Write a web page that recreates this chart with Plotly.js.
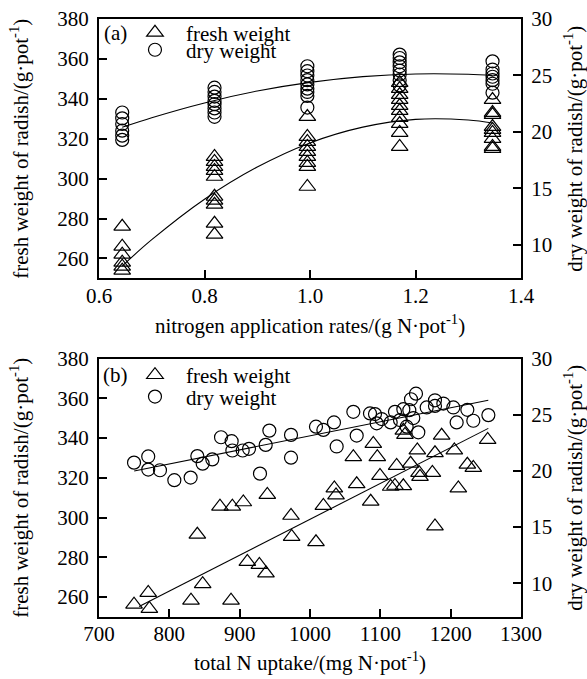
<!DOCTYPE html>
<html><head><meta charset="utf-8">
<script src="https://cdn.plot.ly/plotly-3.0.1.min.js"></script>
<style>body{margin:0;background:#fff}</style>
</head><body><div id="chart" style="width:587px;height:679px"></div>
<script>
// ---------- Panel (a): nitrogen application rate ----------
const aFreshX = [0.644,0.644,0.644,0.644,0.644,0.644,
  0.819,0.819,0.819,0.819,0.819,0.819,0.819,0.819,0.819,0.819,
  0.995,0.995,0.995,0.995,0.995,0.995,0.995,0.995,0.995,
  1.17,1.17,1.17,1.17,1.17,1.17,1.17,1.17,1.17,1.17,
  1.346,1.346,1.346,1.346,1.346,1.346,1.346,1.346,1.346];
const aFreshY = [276,266,262,258,256,254,
  311,308.5,306,304,301,291,289,287,277.5,272,
  331,321,318.5,316,313.5,311,308,306,296,
  348,345,342,339.5,336.5,334,330.5,327.5,323,316,
  339.5,333,332,326,324.5,323,320,316,315];
const aDryX = [0.644,0.644,0.644,0.644,0.644,0.644,
  0.819,0.819,0.819,0.819,0.819,0.819,0.819,0.819,
  0.995,0.995,0.995,0.995,0.995,0.995,0.995,0.995,0.995,
  1.17,1.17,1.17,1.17,1.17,1.17,1.17,1.17,
  1.346,1.346,1.346,1.346,1.346,1.346,1.346];
const aDryY = [21.71,21.19,20.69,20.10,19.66,19.28,
  23.91,23.53,23.12,22.74,22.45,22.07,21.71,21.33,
  25.81,25.37,24.99,24.58,24.20,23.82,23.53,23.18,22.15,
  26.84,26.54,26.16,25.81,25.43,25.08,24.58,24.11,
  26.25,25.52,25.17,24.88,24.58,24.26,23.47];
const aFitX = [0.644,0.7,0.8,0.9,1.0,1.1,1.2,1.3,1.346];
const aFreshFit = [256.2,269.4,289.7,305.8,317.9,325.8,329.7,329.4,327.9];
const aDryFit = [20.40,21.25,22.56,23.61,24.38,24.89,25.13,25.10,24.99];

// ---------- Panel (b): total N uptake ----------
const bFreshX = [749.8,770,771.6,830.8,839.8,847.4,872,889.6,887.7,905.2,910.9,928,937.4,939.3,
  973,973.9,1008.5,1019,1034.6,1037,1061.6,1066.4,1086.3,1090,1095.7,1099.5,1114.7,1120.8,
  1123.2,1132.7,1132.7,1135,1143,1152.6,1155,1156.4,1174,1177.7,1177.7,1187.2,1205.2,1210.9,
  1223.7,1232.2,1252.6];
const bFreshY = [256.3,262.2,254.2,258.3,291.5,266.6,305.6,305.6,258.3,307.8,277.8,276.3,272,311.5,
  301,290.4,287.7,306,314.8,311.3,330.5,316.9,308.1,337.2,330.5,321.1,315.6,316.1,
  326.1,315.9,343.8,341.7,327.2,333.9,322.6,320.6,322.6,295.7,332.5,341.3,333.9,314.8,
  326.7,325.1,339.2];
const bDryX = [749.8,770,770,786.7,807.1,830.3,839.8,847.4,861.1,873.5,888.6,889.6,904.3,913.3,
  928.9,937,942.2,973,973,1008.5,1019,1034.1,1037.9,1061.6,1066.4,1085.3,1092.4,1094.8,
  1101.9,1114.7,1120.8,1127.9,1132.7,1137.4,1141.2,1143.6,1146.9,1150.7,1154,1165.9,1177.7,
  1177.7,1189.6,1203.8,1208.5,1223.7,1232.2,1253.6];
const bDryY = [20.74,21.29,20.12,20.06,19.18,19.41,21.32,20.65,21.03,23.0,22.65,21.82,21.82,21.97,
  19.76,22.32,23.59,23.21,21.18,23.94,23.65,24.32,22.18,25.26,23.15,25.12,25.06,24.24,
  24.62,24.32,25.26,24.53,25.5,23.94,25.41,26.38,24.71,26.88,23.44,25.65,26.29,
  25.79,26.0,25.65,24.32,25.44,24.47,24.97];
const bFreshFitX = [757, 1253.5];
const bFreshFitY = [255.3, 344.9];
const bDryFitX = [750, 1253.5];
const bDryFitY = [20.0, 26.3];

const seriesNames = ['fresh weight', 'dry weight'];

// ---------- styling ----------
const FONT = '"Liberation Serif", "Times New Roman", serif';
const FS = 21;
const tri = {symbol:'triangle-up-open', size:14.5, color:'#000', line:{width:1.2, color:'#000'}};
const cir = {symbol:'circle-open', size:13, color:'#000', line:{width:1.2, color:'#000'}};
const fitLine = {color:'#000', width:1.1};

const traces = [
  {x:aFreshX, y:aFreshY, xaxis:'x', yaxis:'y', mode:'markers', marker:tri, name:seriesNames[0], legend:'legend'},
  {x:aDryX, y:aDryY, xaxis:'x', yaxis:'y2', mode:'markers', marker:cir, name:seriesNames[1], legend:'legend2'},
  {x:aFitX, y:aFreshFit, xaxis:'x', yaxis:'y', mode:'lines', line:Object.assign({shape:'spline'}, fitLine), showlegend:false},
  {x:aFitX, y:aDryFit, xaxis:'x', yaxis:'y2', mode:'lines', line:Object.assign({shape:'spline'}, fitLine), showlegend:false},
  {x:bFreshX, y:bFreshY, xaxis:'x2', yaxis:'y3', mode:'markers', marker:tri, name:seriesNames[0], legend:'legend3'},
  {x:bDryX, y:bDryY, xaxis:'x2', yaxis:'y4', mode:'markers', marker:cir, name:seriesNames[1], legend:'legend4'},
  {x:bFreshFitX, y:bFreshFitY, xaxis:'x2', yaxis:'y3', mode:'lines', line:fitLine, showlegend:false},
  {x:bDryFitX, y:bDryFitY, xaxis:'x2', yaxis:'y4', mode:'lines', line:fitLine, showlegend:false}
];

const axBase = {
  showline:true, linecolor:'#000', linewidth:2, ticks:'inside', ticklen:8, tickwidth:2, tickcolor:'#000',
  showgrid:false, zeroline:false, tickfont:{family:FONT, size:FS, color:'#000'}, ticklabelstandoff:4
};
const ttl = (t, s) => ({text:t, font:{family:FONT, size:FS, color:'#000'}, standoff:s});
const legBase = (x, y) => ({x:x, y:y, xanchor:'left', yanchor:'middle', bgcolor:'rgba(0,0,0,0)', borderwidth:0,
  font:{family:FONT, size:FS, color:'#000'}, itemwidth:52, tracegroupgap:0});

const yTitleL = 'fresh weight of radish/(g·pot<sup>-1</sup>)';
const yTitleR = 'dry weight of radish/(g·pot<sup>-1</sup>)';

const layout = {
  width:587, height:679, margin:{l:99, r:66, t:16, b:62},
  paper_bgcolor:'#fff', plot_bgcolor:'#fff', showlegend:true,
  xaxis: Object.assign({}, axBase, {domain:[0,1], anchor:'y', range:[0.6,1.4], dtick:0.2, tick0:0.6, tickformat:'.1f', mirror:true,
    ticklabelstandoff:-3, title: ttl('nitrogen application rates/(g N·pot<sup>-1</sup>)', 12)}),
  yaxis: Object.assign({}, axBase, {domain:[0.5662,1], anchor:'x', range:[250,380], dtick:20, tick0:260,
    title: ttl(yTitleL, 23)}),
  yaxis2: Object.assign({}, axBase, {overlaying:'y', side:'right', anchor:'x', range:[7,30], dtick:5, tick0:10,
    title: ttl(yTitleR, 20)}),
  xaxis2: Object.assign({}, axBase, {domain:[0,1], anchor:'y3', range:[700,1300], dtick:100, tick0:700, mirror:true,
    ticklabelstandoff:-3, title: ttl('total N uptake/(mg N·pot<sup>-1</sup>)', 10)}),
  yaxis3: Object.assign({}, axBase, {domain:[0,0.4321], anchor:'x2', range:[250,380], dtick:20, tick0:260,
    title: ttl(yTitleL, 23)}),
  yaxis4: Object.assign({}, axBase, {overlaying:'y3', side:'right', anchor:'x2', range:[7,30], dtick:5, tick0:10,
    title: ttl(yTitleR, 20)}),
  legend: legBase(0.0592, 0.9767),
  legend2: legBase(0.0592, 0.948),
  legend3: legBase(0.0592, 0.4043),
  legend4: legBase(0.0592, 0.368),
  annotations: [
    {text:'(a)', xref:'x domain', yref:'paper', x:0.04, y:0.9767, showarrow:false, xanchor:'center', yanchor:'middle',
      font:{family:FONT, size:FS, color:'#000'}},
    {text:'(b)', xref:'x2 domain', yref:'paper', x:0.04, y:0.4043, showarrow:false, xanchor:'center', yanchor:'middle',
      font:{family:FONT, size:FS, color:'#000'}}
  ]
};

Plotly.newPlot('chart', traces, layout, {displayModeBar:false, staticPlot:true});
</script></body></html>
